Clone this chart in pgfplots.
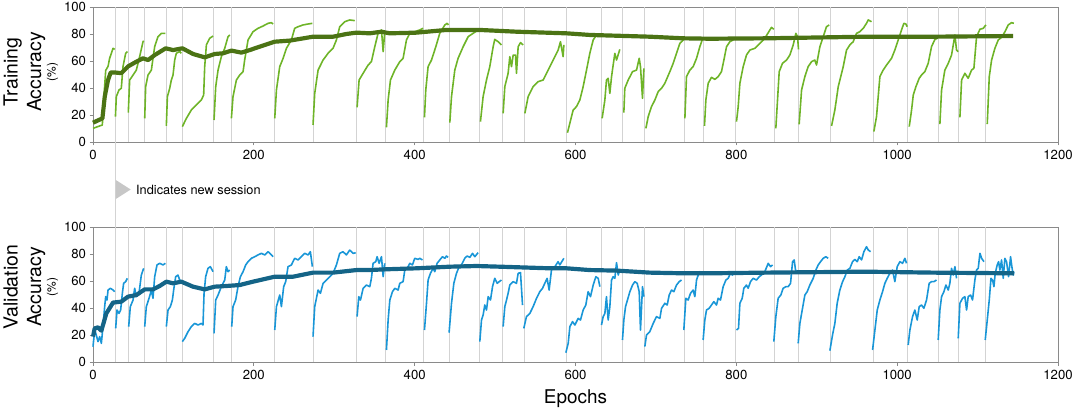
\documentclass[border=0pt]{standalone}
\usepackage{fontspec}
\setmainfont{TeX Gyre Heros}
\usepackage{pgfplots}
\usepackage{pgfplotstable}
\pgfplotsset{compat=1.18}
\definecolor{trthin}{HTML}{6EB428}
\definecolor{travg}{HTML}{4B7314}
\definecolor{vathin}{HTML}{1996D7}
\definecolor{vaavg}{HTML}{146487}
\definecolor{sessgrid}{HTML}{D3D3D3}
\definecolor{frame}{HTML}{8A8A8A}

\pgfplotstableread{
x y
0 10.1
8.3 11.9
11.6 12.6
13.3 31
15.8 53
18.7 56
20.7 62
24.9 69.4
27 68.6
nan nan
27.9 18.8
29 33.6
32.3 38.5
35.2 39.8
37.3 55.8
40.6 65.7
42.7 67
nan nan
43.9 21.7
45.6 45.9
49.8 49.6
53.9 53.3
58 63.2
62.2 74.3
63 75
nan nan
64.3 17.5
65.5 41
68.4 49.6
72.6 53.3
74.6 62
76.7 70.6
80.8 78
85 80.5
90 80.5
nan nan
91.2 11.9
92.5 33.6
95.4 39.8
97.4 45.9
99.5 49.6
101.6 60.7
103.6 65.7
107.8 67
109.9 65.7
nan nan
111.1 11.4
116.1 17.5
122.3 23.7
128.5 27.4
134.7 31.1
137.6 34.8
138.9 55.8
141 71.9
145.1 76.8
149.3 78.5
nan nan
150.5 16.3
152.6 41
155.5 53.3
159.6 63.2
163.8 69.4
167.9 78
170 79.3
nan nan
172.1 17.5
174.1 33.6
178.3 45.9
182.4 49.6
186.6 52.1
188.6 60.7
192.8 75.6
199 81.7
205.2 84.2
211.4 85.9
217.7 87.9
221.8 88.4
223.9 87.4
nan nan
226 17.5
228.1 38.5
232.2 55.8
236.4 62
240.5 69.4
246.7 75.6
250.8 84.2
255 85.4
261.2 86.7
267.4 87.4
272.8 87.9
nan nan
273.6 12.6
275.7 36
279.9 53.3
286.1 60.7
292.3 65.7
298.5 69.4
302.7 75.6
306.8 85.4
313 89.1
319.2 90.4
325.5 89.9
nan nan
328.4 25.7
330.9 45.9
335.9 50.9
342.1 57
346.2 59.5
350.4 70.6
354.5 80.5
358.7 83
360.8 66.9
362.8 81.7
nan nan
364.9 10.9
367 31.1
369.9 45.9
375.3 53.3
381.5 59.5
385.6 62
389.8 75.6
393.9 80.5
400.1 81.7
406.4 83
410.5 84.2
nan nan
412.2 18.3
413.8 38.5
416.7 55.8
420.9 60.7
426.3 70.6
431.2 80.5
437.5 86.7
440.4 87.9
442 86.7
nan nan
443.7 14.3
445.8 33.6
449.9 53.3
454 62
460.3 70.6
466.5 78
472.7 80.5
478.9 83
nan nan
481.8 15.1
485.1 33.6
489.3 45.9
493.4 55.8
497.6 70.6
499.6 76
503.8 74.3
507.9 71.9
nan nan
510 21.2
512.1 41
516.2 50.9
518.3 63.2
520.4 55.8
522.5 64.4
525.4 64.4
526.6 50.9
528.7 70.6
531.6 73.6
534.9 71.9
nan nan
537 21.2
541.1 33.6
547.3 41
553.5 44.7
559.8 45.9
566 53.3
572.2 60.7
578.4 68.1
581.3 74.3
584.6 63.2
585.5 71.9
nan nan
590 6.9
592.9 13.8
597.1 23.7
601.2 26.2
605.4 31.1
609.5 41
613.7 53.3
617.8 65.7
622 75.6
626.1 79.3
629.4 78.5
nan nan
633.1 17.5
636.5 31.1
638.5 45.9
640.6 47.2
642.7 36
644.8 48.4
648.9 65.7
651 60.7
655.1 68.6
nan nan
660.1 21.7
661.3 39.8
665.5 45.9
670.9 52.1
675.9 53.3
679.2 62
680.8 55.8
683.3 32.3
685 54.6
nan nan
687.5 10.1
690.4 18.8
694.5 26.2
698.7 31.1
702.8 37.3
707 39.8
711.1 43.5
717.3 52.1
721.5 58.3
725.6 65.7
729.8 73.1
733.9 75.6
nan nan
736 17.5
738 48.4
742.2 53.3
746.3 55.8
750.5 62
754.6 70.6
757.5 75.6
nan nan
760.4 11.9
762.1 31.1
765 43.5
769.1 47.9
773.3 46.4
777.4 48.4
781.5 52.1
784.5 60.7
787.8 70.6
791.9 74.3
796.1 75.6
nan nan
800.2 15.1
802.3 26.2
804.4 43.5
808.5 55.8
812.6 64.4
816.8 68.1
823 69.4
829.2 73.1
835.4 76.8
841.7 83
843.7 84.9
846.6 83.5
nan nan
849.1 10.1
851.2 31.1
853.3 52.1
857.4 58.3
862.4 60.7
866.5 64.4
870.7 71.9
874 80.5
876.1 78
877.3 68.6
nan nan
878.1 13.1
881.1 38.5
885.2 48.4
889.3 55.8
893.5 59.5
897.6 60.7
899.7 57
903.9 70.6
908 78
912.1 85.4
915.5 86.7
nan nan
918.4 11.9
922.5 23.7
926.7 41
932.9 55.8
937 68.1
941.2 71.9
945.3 74.3
949.5 80.5
953.6 81.7
957.8 84.2
961.9 87.9
964 90.4
968.1 89.1
nan nan
971 7.7
974.3 18.8
978.5 48.4
982.6 53.3
986.8 57
993 62
997.1 68.1
1001.3 75.6
1005.4 83
1008.3 87.9
1010.8 87.4
1012.5 85.4
nan nan
1015 11.4
1017.9 23.7
1020 34.8
1023.3 41
1027.4 47.2
1030.3 49.6
1034.4 52.1
1038.6 58.3
1042.7 70.6
1046.9 76
1049.8 76.8
nan nan
1053.1 13.3
1055.2 38.5
1059.3 53.3
1063.5 58.3
1067.6 64.4
1071.8 79.3
1073.8 68.1
1075.9 66.9
nan nan
1078 18.3
1080.1 45.9
1084.2 50.9
1088.3 47.2
1092.5 53.3
1095.4 54.6
1098.7 78
1102.9 83.5
1107 84.2
1110.3 86.7
nan nan
1112 13.3
1114.5 48.4
1117.4 60.7
1121.5 69.4
1125.7 75.6
1129.8 77.5
1134 81.7
1138.1 86.7
1142.2 88.4
1145.1 87.9
}\trainthin

\pgfplotstableread{
x y
0 14.3
11.7 17.5
14.6 33.6
18.7 45.9
22 51.5
27 51.5
35.3 51
43.6 56
54 59.5
62.2 62
68.5 60.7
76.7 64.4
90.4 69.4
99.5 68.1
111.2 69.4
124.4 65.2
139 62.7
151.4 65.2
161.7 65.7
172.1 67.7
184.5 66.2
194.9 68.1
207.3 70.6
226 74.3
244.7 75.1
273.6 78
298.5 78
315.1 80
327.5 81
344.2 80.5
358.7 81.7
369 80.5
402.2 81
439.5 83
481 83
526.6 81.7
588.8 80.5
617.8 79.3
692.4 78
733.9 76.8
767 76.5
837.5 76.8
961.9 78
1044.8 78
1144.3 78.5
}\trainavg

\pgfplotstableread{
x y
0 11.4
2.1 23.7
4.1 20
6.2 15.1
8.3 18.8
10.4 13.8
12.4 26.2
14.5 41
15.8 48.4
17.4 45.9
18.7 53.3
21.6 54.6
24.9 53.3
27 52.1
nan nan
28.2 24.9
29.9 38.5
32.3 36
34.4 38.5
36.5 50.9
38.1 58.3
40.6 59.5
42.7 62
nan nan
44.4 26.2
46.4 41
49.8 45.9
51.8 54.6
53.9 48.4
57.2 50.9
60.1 64.4
63 69.4
nan nan
64.3 26.2
66.3 41
69.7 47.2
72.6 53.3
74.6 47.2
76.7 63.2
79.6 71.9
82.9 73.1
87.1 71.9
90 73.1
nan nan
91.2 26.2
93.3 38.5
96.2 41
98.7 45.9
100.3 53.3
102.8 63.2
105.7 64.4
107.8 60.7
109.9 59.5
nan nan
111.1 15.1
114 17.5
118.2 22.5
122.3 26.2
126.5 28.6
130.6 27.4
134.7 28.6
136.8 27.4
138.1 50.9
140.1 63.2
143 69.4
145.9 70.6
149.3 66.9
nan nan
150.5 21.2
152.6 45.9
155.5 49.6
159.6 55.8
163.8 60.7
165.8 70.6
167.9 66.9
170 68.1
nan nan
172.5 26.2
174.1 41
177.4 45.9
180.3 55.8
183.3 63.2
186.6 66.9
189.9 71.9
192.8 74.3
196.9 76.8
201.1 78
205.2 79.3
209.4 80.5
213.5 79.3
217.7 81.7
221.8 79.3
223.9 78
nan nan
226 23.7
228.1 41
232.2 49.6
234.3 41
237.1 55.8
239.6 59.5
242.5 70.6
246.7 71.9
250.8 76.8
255 75.6
259.1 78
263.3 80.5
267.4 79.3
270.3 81.7
272.8 70.6
nan nan
273.6 18.8
275.7 41
279.9 53.3
282.8 50.9
286.1 58.3
290.2 60.7
294.4 63.2
298.5 65.7
302.7 71.9
306.8 80.5
310.9 81.7
315.1 79.3
319.2 82.9
323.4 80.5
326.7 80.9
nan nan
328.4 33.6
330.5 48.4
332.6 45.9
335.9 54.6
340 57
344.2 55.8
346.2 62
348.3 73.1
351.6 74.3
353.3 78
355.8 73.1
358.7 78
360.8 63.2
362.8 73.1
nan nan
364.9 8.9
367 31.1
369.1 45.9
372.4 52.1
375.3 54.6
379.4 53.3
381.5 58.3
385.6 59.5
387.7 68.1
391.9 70.6
393.9 73.1
397.2 71.9
400.1 76.8
404.3 76
406.4 76.8
409.7 75.6
nan nan
412.2 23.7
414.7 43.5
416.7 60.7
419.6 65.7
423 69.4
425 66.9
427.9 73.1
431.2 75.6
434.6 78
437.5 76.8
439.5 78.5
441.6 77.5
nan nan
442.8 21.7
445.8 43.5
448.7 58.3
452 65.7
455.3 70.6
458.2 71.9
462.3 76.8
465.2 78.5
468.6 77.5
471.9 80.5
474.8 78
478.9 81
nan nan
481 15.1
483.1 31.1
485.1 34.8
487.2 42.2
489.3 38.5
491.4 48.4
494.3 45.9
496.8 55.8
499.6 62
502.6 58.3
505.1 59.5
507.9 60.7
nan nan
510 26.2
512.1 41
514.2 45.9
516.2 50.9
518.3 57
522.5 59.5
526.6 58.3
528.7 65.7
531.6 66.2
534.1 42.2
nan nan
535.7 24.9
539 33.6
543.2 36
547.3 41
551.5 47.2
555.6 52.1
559 54.6
561.8 58.3
564.7 62
567.2 53.3
570.1 68.1
574.3 70.6
578.4 74.3
580.5 71.9
585.5 76.8
nan nan
588 6.9
590.9 13.8
593 26.2
596.3 29.9
599.2 27.4
603.3 32.3
606.2 31.1
609.5 38.5
612.8 42.2
615.7 52.1
618.6 48.4
622 57
625.3 63.2
628.2 62
630.3 55.8
nan nan
632.3 27.4
634.4 33.6
636.5 36
638.5 48.4
640.6 31.1
642.7 41
644.8 60.7
646.8 63.2
648.9 62
651 73.6
653.1 64.4
655.1 68.1
nan nan
658.4 16.3
660.1 31.1
662.2 41
664.6 45.9
667.6 52.1
670.9 57
673.8 59.5
676.7 58.3
679.2 52.1
680.8 23.7
683.3 55.8
685 48.4
nan nan
686.2 11.4
688.3 20
692.4 22.5
696.6 28.6
700.7 33.6
704.9 32.3
707 39.8
711.1 43.5
714 42.2
716.5 49.6
719.4 53.3
722.3 52.1
725.6 57
728.9 59.5
731.8 60.7
nan nan
734.7 23.7
737.2 47.2
740.1 45.9
743 50.9
746.3 53.3
748.4 48.4
750.5 60.7
752.6 64.4
754.6 66.9
756.7 65.7
nan nan
758.7 16.3
760.8 31.1
762.9 38.5
766.2 39.8
769.1 42.2
772 44.7
775.3 42.2
777.4 47.2
780.3 45.9
783.6 55.8
787 60.7
789.8 62
792.7 65.7
795.2 64.4
797.3 66.9
nan nan
800.2 23.7
802.7 24.9
804.4 43.5
807.3 47.2
809.3 54.6
812.6 57
814.7 54.6
817.6 59.5
820.9 62
825.1 60.7
828.4 63.2
831.3 64.4
835.4 66.9
839.6 73.1
842.5 70.6
845 71.9
nan nan
846.6 15.1
849.1 33.6
852 47.2
855.3 49.6
858.2 54.6
861.6 55.8
864.5 55.8
867.4 58.3
869.9 74.3
871.9 75.6
873.6 68.1
875.7 66.9
nan nan
876.9 13.8
879 28.6
882.3 39.8
885.2 49.6
888.1 52.1
891.4 57
895.6 62
898.9 68.1
901.8 71.9
904.7 74.3
908 76.8
911.3 78
914.2 76.8
nan nan
916.3 8.4
919.6 20
922.5 28.6
925.4 43.5
928.7 53.3
932.1 59.5
935 63.2
937.9 68.1
941.2 69.4
944.5 74.3
947.4 76
950.3 74.3
952.8 78
955.7 75.6
958.6 81.7
961.9 85.4
964 83
966.9 81.7
nan nan
969.4 8.9
972.3 23.7
975.2 38.5
978.5 45.9
981.8 52.1
984.7 58.3
987.6 62
990.9 65.7
994.2 68.1
997.1 59.5
1000 70.6
1003.4 74.3
1006.7 73.1
1009.6 76.8
1011.6 73.1
nan nan
1013.7 12.6
1015.8 23.7
1019.1 33.6
1022 38.5
1024.9 31.1
1027.4 41
1030.3 42.2
1033.2 39.8
1036.5 45.9
1039.8 58.3
1042.7 59.5
1045.6 59.5
1048.9 60.7
nan nan
1051 16.3
1053.1 38.5
1055.2 48.4
1058.1 52.1
1060.6 57
1063.5 53.3
1065.5 58.3
1067.6 69.4
1069.7 64.4
1071.8 70.6
1073.8 62
nan nan
1075.9 17.5
1078 43.5
1081.3 47.2
1084.2 48.4
1086.3 38.5
1088.3 48.4
1091.3 49.6
1093.7 45.9
1096.6 60.7
1098.7 68.1
1100.8 69.4
1102.9 80.5
1105 76.8
1107.9 74.3
nan nan
1109.5 16.3
1112 31.1
1114.5 45.9
1116.6 62
1118.6 60.7
1120.3 55.8
1121.9 65.7
1124.4 71.9
1126.1 74.3
1127.7 68.1
1129.8 75.6
1131.9 62
1133.9 76.8
1136 74.3
1138.5 63.2
1141 78
1142.6 70.6
1144.3 64.4
1145.1 66.9
}\valthin

\pgfplotstableread{
x y
0 18.8
2.1 24.9
6.2 25.7
10.4 23.2
16.6 36
24.9 44
35.2 44.7
43.5 48.4
53.9 49.6
64.3 53.8
74.6 53.8
82.9 56.3
91.2 59.5
99.5 58.3
109.9 59.5
124.4 55.8
138.9 53.8
151.3 55.8
165.8 56.3
182.4 57
199 59.5
226 63.2
248.8 63.2
273.6 66.2
298.5 66.2
327.5 68.1
344.2 68.1
360.8 68.6
402.2 69.4
443.7 70.6
476.8 71.1
505.9 70.6
568.1 69.4
588.8 69.4
617.8 68.1
651 67.7
692.4 66.2
733.9 65.7
767 65.7
837.5 66.2
961.9 66.9
1044.8 66.2
1145.5 65.7
}\valavg

\pgfplotsset{
  sessaxis/.style={
    scale only axis, width=965bp, height=135bp,
    xmin=0, xmax=1200, ymin=0, ymax=100,
    xtick={0,200,...,1200}, ytick={0,20,...,100},
    xtick pos=lower, ytick pos=left,
    tick align=outside,
    major tick length=3.5bp,
    axis line style={draw=frame, line width=0.8pt},
    tick style={draw=frame, line width=0.8pt},
    ticklabel style={font=\fontsize{13.2}{15}\selectfont},
    /pgf/number format/assume math mode=true,
    /pgf/number format/1000 sep={},
    xticklabel style={yshift=-1bp},
    extra x ticks={28,44,64,91,111,150.3,172,226,274,328,364,411,443,481,509,536.3,589,632,658,686,735,759,799,848,877,917,970,1013,1051,1076,1110},
    extra x tick labels={},
    extra x tick style={grid=major, major tick length=0pt, tick style={draw=none}},
    major grid style={draw=sessgrid, line width=1pt},
    unbounded coords=jump,
    clip=false,
  }
}

\begin{document}
\begin{tikzpicture}[x=1bp,y=1bp]
\path[use as bounding box] (0,0) rectangle (1072,412);

\begin{axis}[sessaxis, at={(93bp,270bp)}, anchor=south west]
\addplot[trthin, line width=1.6pt, line join=round] table {\trainthin};
\addplot[travg, line width=4.2pt, line join=round] table {\trainavg};
\coordinate (sa) at (axis cs:28,0);
\end{axis}

\begin{axis}[sessaxis, at={(93bp,50bp)}, anchor=south west]
\addplot[vathin, line width=1.6pt, line join=round] table {\valthin};
\addplot[vaavg, line width=4.2pt, line join=round] table {\valavg};
\coordinate (sb) at (axis cs:28,100);
\end{axis}

\draw[sessgrid, line width=1pt] (sa) -- (sb);
\fill[black!22] (115.8,232) -- (115.8,213) -- (130.7,222.5) -- cycle;
\node[anchor=west, inner sep=0pt, font=\fontsize{12.8}{14}\selectfont] at (136,222.5) {Indicates new session};

\node[rotate=90, anchor=base, inner sep=0pt, font=\fontsize{19.5}{22}\selectfont] at (17.5,340) {Training};
\node[rotate=90, anchor=base, inner sep=0pt, font=\fontsize{19.5}{22}\selectfont] at (41,340) {Accuracy};
\node[rotate=90, anchor=base, inner sep=0pt, font=\fontsize{12}{14}\selectfont] at (55.5,340) {(\%)};

\node[rotate=90, anchor=base, inner sep=0pt, font=\fontsize{19.5}{22}\selectfont] at (17.5,125) {Validation};
\node[rotate=90, anchor=base, inner sep=0pt, font=\fontsize{19.5}{22}\selectfont] at (41,125) {Accuracy};
\node[rotate=90, anchor=base, inner sep=0pt, font=\fontsize{12}{14}\selectfont] at (55.5,125) {(\%)};

\node[anchor=base, inner sep=0pt, font=\fontsize{19}{21}\selectfont] at (575.5,9) {Epochs};
\end{tikzpicture}
\end{document}
